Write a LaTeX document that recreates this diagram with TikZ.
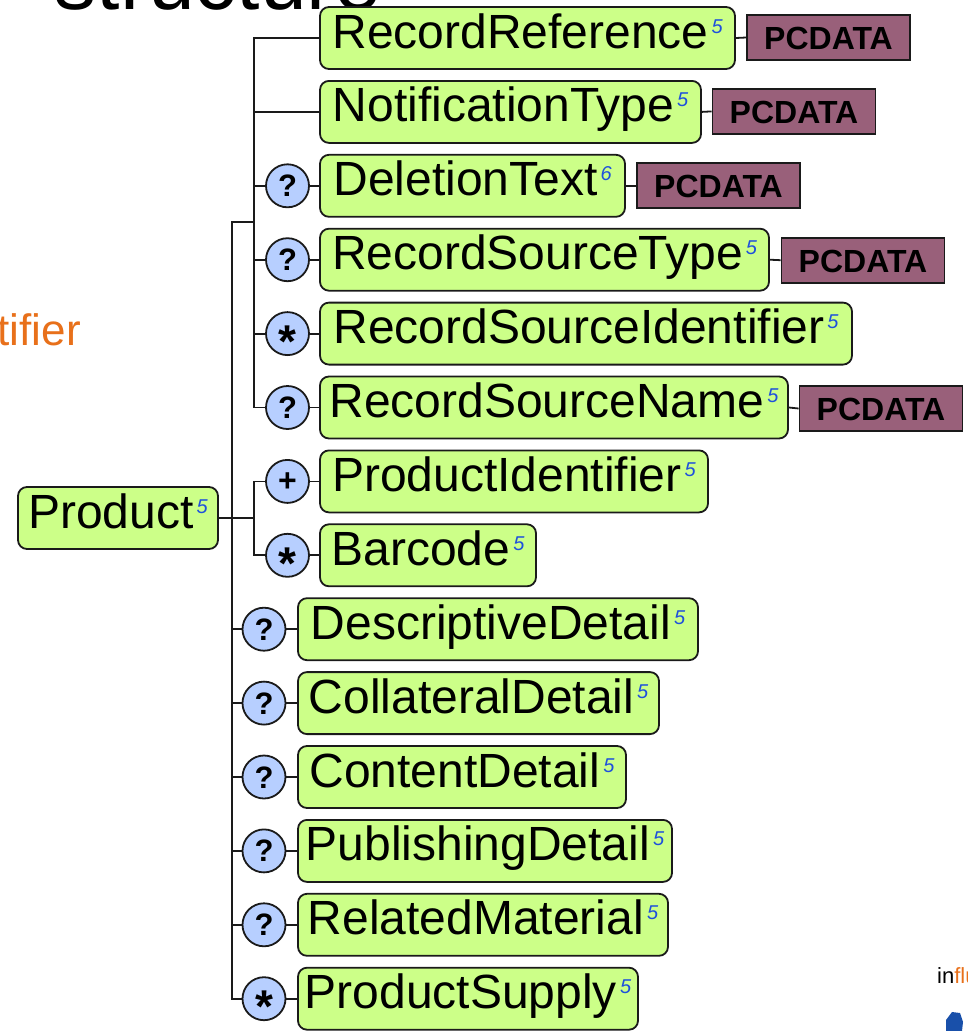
\documentclass[tikz,border=0pt]{standalone}
\usepackage{fontspec}
\setmainfont{Liberation Sans}
\definecolor{elemfill}{RGB}{204,255,136}
\definecolor{occfill}{RGB}{183,207,255}
\definecolor{pcfill}{RGB}{153,96,122}
\definecolor{linec}{RGB}{26,26,26}
\definecolor{supblue}{RGB}{30,80,220}
\definecolor{titleorange}{RGB}{232,112,26}
\definecolor{logoblue}{RGB}{25,80,170}
\newcommand\supn[1]{\hspace{3pt}\raisebox{15pt}{\fontsize{20}{20}\selectfont\itshape\color{supblue}#1}}
\newcommand\etext[2]{\makebox[0pt]{\raisebox{-10pt}[0pt][0pt]{#1\supn{#2}}}}
\newcommand\ptext{\makebox[0pt]{\raisebox{-12pt}[0pt][0pt]{\fontsize{32}{32}\selectfont\bfseries PCDATA}}}
\newcommand\occq{\makebox[0pt]{\raisebox{-11pt}[0pt][0pt]{\fontsize{31}{31}\selectfont\bfseries ?}}}
\newcommand\occp{\makebox[0pt]{\raisebox{-10.5pt}[0pt][0pt]{\fontsize{32}{32}\selectfont\bfseries +}}}
\newcommand\occs{\makebox[0pt]{\raisebox{-24pt}[0pt][0pt]{\fontsize{46}{46}\selectfont\bfseries *}}}
\begin{document}
\begin{tikzpicture}[x=1pt,y=-1pt,
  elem/.style={draw=linec, fill=elemfill, rounded corners=9pt, line width=1.8pt,
    minimum height=62pt, inner sep=0pt, font=\fontsize{48}{50}\selectfont},
  pcd/.style={draw=linec, fill=pcfill, line width=1.8pt, minimum height=45pt,
    minimum width=163pt, inner sep=0pt},
  occ/.style={circle, draw=linec, fill=occfill, line width=1.8pt, minimum size=43pt, inner sep=0pt},
  conn/.style={draw=linec, line width=1.8pt}]
\useasboundingbox (0,0) rectangle (968,1031);
\begin{scope}
\clip (0,0) rectangle (968,1031);
\node[anchor=base east, font=\fontsize{84}{84}\selectfont] (title) at (385,9) {structure};
\node[anchor=base west, font=\fontsize{22}{22}\selectfont, inner sep=0pt] (logo) at (937,983) {in{\color{titleorange}flu}};
\fill[logoblue] (946,1031) -- (946,1020) -- (952,1012) -- (960,1013) -- (963,1022) -- (962,1031) -- cycle;
\end{scope}
\node[anchor=base east, font=\fontsize{44}{44}\selectfont, text=titleorange, inner sep=0pt] (tif) at (81,345) {tifier};

% elements
\node[elem, minimum width=200] (prod) at (118,518) {\etext{Product}{5}};
\node[elem, minimum width=415] (e0) at (527.5,38) {\etext{RecordReference}{5}};
\node[elem, minimum width=381] (e1) at (510.5,111.9) {\etext{NotificationType}{5}};
\node[elem, minimum width=305] (e2) at (472.5,185.8) {\etext{DeletionText}{6}};
\node[elem, minimum width=449] (e3) at (544.5,259.7) {\etext{RecordSourceType}{5}};
\node[elem, minimum width=532] (e4) at (586,333.6) {\etext{RecordSourceIdentifier}{5}};
\node[elem, minimum width=468] (e5) at (554,407.5) {\etext{RecordSourceName}{5}};
\node[elem, minimum width=388] (e6) at (514,481.4) {\etext{ProductIdentifier}{5}};
\node[elem, minimum width=216] (e7) at (428,555.3) {\etext{Barcode}{5}};
\node[elem, minimum width=400] (e8) at (498,629.2) {\etext{DescriptiveDetail}{5}};
\node[elem, minimum width=361] (e9) at (478.5,703.1) {\etext{CollateralDetail}{5}};
\node[elem, minimum width=328] (e10) at (462,777) {\etext{ContentDetail}{5}};
\node[elem, minimum width=374] (e11) at (485,850.9) {\etext{PublishingDetail}{5}};
\node[elem, minimum width=370] (e12) at (483,924.8) {\etext{RelatedMaterial}{5}};
\node[elem, minimum width=340] (e13) at (468,998.7) {\etext{ProductSupply}{5}};

% PCDATA
\node[pcd] (p0) at (828.5,37.5) {\ptext};
\node[pcd] (p1) at (794,111.4) {\ptext};
\node[pcd] (p2) at (718.5,185.8) {\ptext};
\node[pcd] (p3) at (863,260.2) {\ptext};
\node[pcd] (p5) at (881,408.5) {\ptext};

% occurrence circles
\node[occ] (o2) at (287.5,185.8) {\occq};
\node[occ] (o3) at (287.5,259.7) {\occq};
\node[occ] (o4) at (287.5,333.6) {\occs};
\node[occ] (o5) at (287.5,407.5) {\occq};
\node[occ] (o6) at (287.5,481.4) {\occp};
\node[occ] (o7) at (287.5,555.3) {\occs};
\node[occ] (o8) at (264,629.2) {\occq};
\node[occ] (o9) at (264,703.1) {\occq};
\node[occ] (o10) at (264,777) {\occq};
\node[occ] (o11) at (264,850.9) {\occq};
\node[occ] (o12) at (264,924.8) {\occq};
\node[occ] (o13) at (264,998.7) {\occs};

% spine coordinates
\coordinate (chtop) at (254,38);
\coordinate (chbot) at (254,407.5);
\coordinate (chj) at (254,222);
\coordinate (os) at (232,222);
\coordinate (osb) at (232,998.7);
\coordinate (sqt) at (254,481.4);
\coordinate (sqb) at (254,555.3);
\coordinate (sqj) at (254,518);

% connectors
\draw[conn] (e0.west) -- (chtop) -- (chbot) -- (o5.west);
\draw[conn] (e1.west) -- (e1.west -| chtop);
\draw[conn] (o2.west) -- (o2.west -| chtop);
\draw[conn] (o3.west) -- (o3.west -| chtop);
\draw[conn] (o4.west) -- (o4.west -| chtop);
\draw[conn] (chj) -- (os) -- (osb) -- (o13.west);
\draw[conn] (prod.east) -- (sqj);
\draw[conn] (o6.west) -- (sqt) -- (sqb) -- (o7.west);
\foreach \i in {8,...,12} {\draw[conn] (o\i.west) -- (o\i.west -| os);}
\foreach \i in {2,...,13} {\draw[conn] (o\i.east) -- (e\i.west);}
\foreach \i in {0,1,2,3,5} {\draw[conn] (e\i.east) -- (p\i.west);}
\end{tikzpicture}
\end{document}
